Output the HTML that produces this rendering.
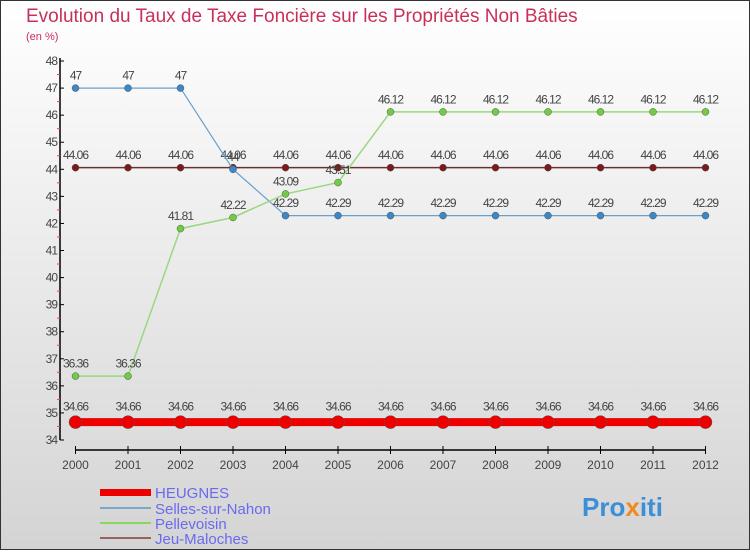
<!DOCTYPE html>
<html><head><meta charset="utf-8"><style>
body{margin:0}
#c{width:750px;height:550px;position:relative;font-family:"Liberation Sans",sans-serif}
</style></head><body>
<div id="c">
<svg id="s" width="750" height="550" xmlns="http://www.w3.org/2000/svg">
<defs><linearGradient id="bg" x1="0" y1="0" x2="0" y2="1"><stop offset="0" stop-color="#ffffff"/><stop offset="1" stop-color="#d4d4d4"/></linearGradient></defs>
<rect x="0.5" y="0.5" width="749" height="549" fill="url(#bg)" stroke="#333"/>
<text x="26" y="22" font-size="19" fill="#c8305a">Evolution du Taux de Taxe Foncière sur les Propriétés Non Bâties</text>
<text x="26" y="40" font-size="11" fill="#c8305a">(en %)</text>
<g id="axes"></g><g id="series"></g>
<g>
<rect x="100" y="489" width="51" height="7" fill="#e00"/>
<text x="155" y="498" font-size="15" fill="#6a6af0">HEUGNES</text>
<line x1="100" y1="508" x2="151" y2="508" stroke="#7aa8cc" stroke-width="2"/>
<text x="155" y="514" font-size="15" fill="#6a6af0">Selles-sur-Nahon</text>
<line x1="100" y1="523" x2="151" y2="523" stroke="#88d860" stroke-width="2"/>
<text x="155" y="529" font-size="15" fill="#6a6af0">Pellevoisin</text>
<line x1="100" y1="538" x2="151" y2="538" stroke="#9a6060" stroke-width="2"/>
<text x="155" y="544" font-size="15" fill="#6a6af0">Jeu-Maloches</text>
</g>
<text x="582" y="516" font-size="26" font-weight="bold" fill="#3a8fd8">Pro<tspan fill="#f08a20">x</tspan>iti</text>
</svg></div>
<script>
const years=[2000,2001,2002,2003,2004,2005,2006,2007,2008,2009,2010,2011,2012];
const heugnes=[34.66,34.66,34.66,34.66,34.66,34.66,34.66,34.66,34.66,34.66,34.66,34.66,34.66];
const selles=[47,47,47,44,42.29,42.29,42.29,42.29,42.29,42.29,42.29,42.29,42.29];
const pellevoisin=[36.36,36.36,41.81,42.22,43.09,43.51,46.12,46.12,46.12,46.12,46.12,46.12,46.12];
const jeu=[44.06,44.06,44.06,44.06,44.06,44.06,44.06,44.06,44.06,44.06,44.06,44.06,44.06];
const yTicks=[34,35,36,37,38,39,40,41,42,43,44,45,46,47,48];
const NS="http://www.w3.org/2000/svg";
const X=i=>75.5+i*52.5, Y=v=>440-(v-34)*27.07;
function mk(t,a,p){const e=document.createElementNS(NS,t);for(const k in a)e.setAttribute(k,a[k]);p.appendChild(e);return e;}
const ax=document.getElementById('axes'), sg=document.getElementById('series');
let yl=mk('line',{x1:60,y1:58,x2:60,y2:440,stroke:'#000','stroke-width':1.5},ax);


yTicks.forEach(v=>{
 mk('line',{x1:60,y1:Y(v),x2:64,y2:Y(v),stroke:'#000'},ax);
 if(v<48)mk('line',{x1:57,y1:Y(v+0.5),x2:60,y2:Y(v+0.5),stroke:'#e44'},ax);
 const t=mk('text',{x:57,y:Y(v)+4,'font-size':12,'text-anchor':'end',fill:'#444','letter-spacing':'-1'},ax);t.textContent=v;
 
 
});
let xl=mk('line',{x1:75,y1:450,x2:706,y2:450,stroke:'#000','stroke-width':1.5},ax);


years.forEach((y,i)=>{
 mk('line',{x1:X(i),y1:446,x2:X(i),y2:454,stroke:'#000'},ax);
 const t=mk('text',{x:X(i),y:469,'font-size':12,'text-anchor':'middle',fill:'#444'},ax);t.textContent=y;
 
 
});
function series(d,col,dot,w,r,name){
 const g=mk('g',{},sg);
 
 
 mk('polyline',{points:d.map((v,i)=>X(i)+','+Y(v)).join(' '),fill:'none',stroke:col,'stroke-width':w},g);
 d.forEach((v,i)=>{
  const c=mk('circle',{cx:X(i),cy:Y(v),r:r,fill:dot,stroke:'#555','stroke-width':0.5},g);
  
  
  const t=mk('text',{x:X(i),y:Y(v)-(r+5),'font-size':12,'text-anchor':'middle',fill:'#444','letter-spacing':'-1'},g);
  t.textContent=v;
  
  
 });
}
series(jeu,'#6a3030','#7a1a1a',1.5,3.5,'series-jeu-maloches');
series(selles,'#6aa0cc','#3a88c8',1.2,3.5,'series-selles-sur-nahon');
series(pellevoisin,'#9ad880','#70cc40',1.5,3.5,'series-pellevoisin');
series(heugnes,'#e00','#e00',8,6.5,'series-heugnes');
</script>
</body></html>
